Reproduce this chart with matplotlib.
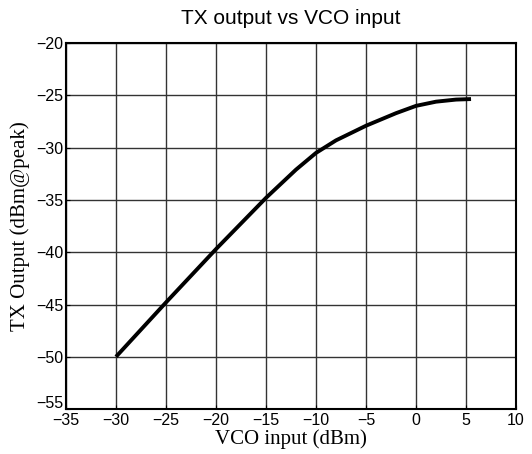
import numpy as np
import matplotlib.pyplot as plt
from matplotlib.transforms import ScaledTranslation

vco_in = [-30, -25, -20, -15, -12, -10, -8, -5, -2, 0, 2, 4, 5.5]
tx_out = [-50, -44.8, -39.7, -34.8, -32.1, -30.5, -29.3, -27.9, -26.7, -26.0, -25.6, -25.4, -25.35]

xticks = np.arange(-35, 11, 5)
yticks = np.arange(-55, -19, 5)

fig = plt.figure(figsize=(5.32, 4.54), dpi=100)
ax = fig.add_axes([0.124, 0.099, 0.846, 0.806])

ax.plot(vco_in, tx_out, color="black", linewidth=2.8, solid_capstyle="butt")

ax.set_xlim(-35, 10)
ax.set_ylim(-55, -20)
ax.set_xticks(xticks)
ax.set_yticks(yticks)
ax.tick_params(direction="in", length=3, labelsize=11.5, pad=2)
ax.tick_params(axis="x", pad=3)
for lbl in ax.get_xticklabels() + ax.get_yticklabels():
    lbl.set_family("Liberation Sans")
# nudge the lowest y label up so it clears the first x label
low = ax.get_yticklabels()[0]
low.set_transform(low.get_transform() + ScaledTranslation(0, 5 / 72, fig.dpi_scale_trans))
ax.grid(True, color="#333333", linewidth=1)
for s in ax.spines.values():
    s.set_linewidth(1.5)

ax.set_title("TX output vs VCO input", fontsize=15, family="Liberation Sans", pad=14)
ax.set_xlabel("VCO input (dBm)", fontsize=15, family="Liberation Serif", labelpad=1)
ax.set_ylabel("TX Output (dBm@peak)", fontsize=15, family="Liberation Serif", labelpad=4)

fig.savefig("out.png", dpi=100)
